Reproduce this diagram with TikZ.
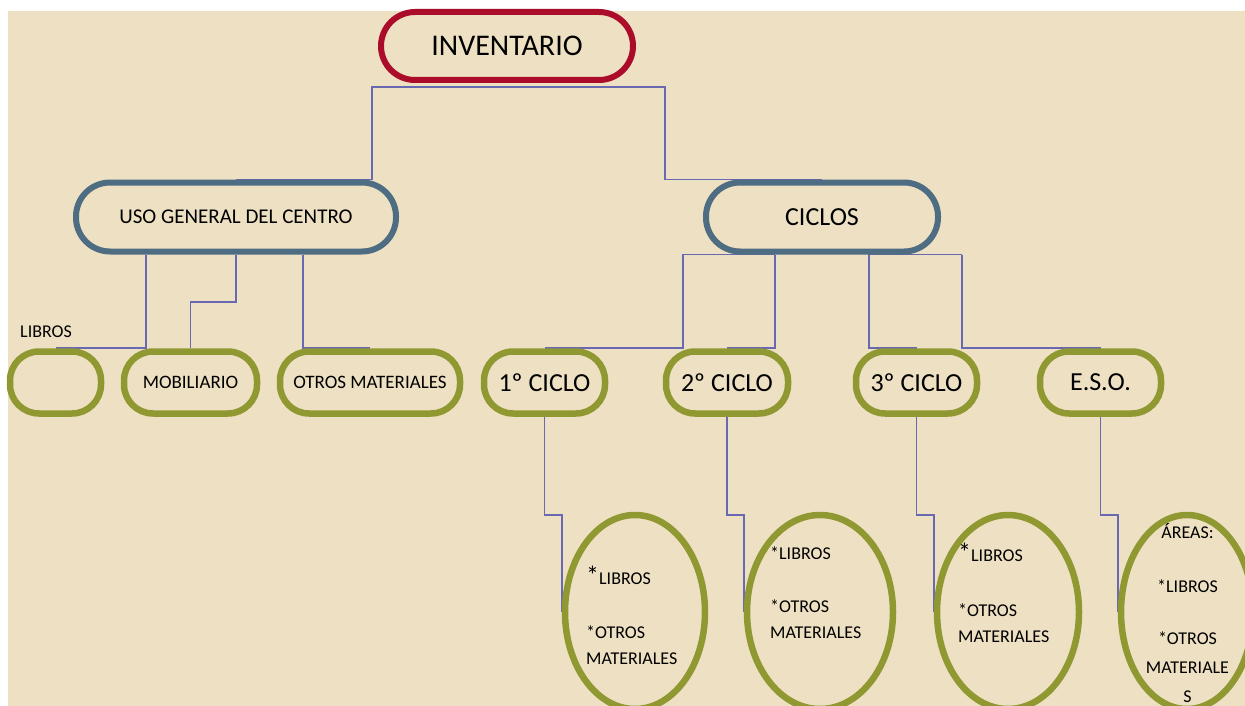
\documentclass[tikz,border=0pt]{standalone}
\usepackage{fontspec}
\setmainfont{Carlito}
\usetikzlibrary{shapes.geometric,backgrounds}
\definecolor{rojo}{RGB}{170,12,42}
\definecolor{azul}{RGB}{78,108,130}
\definecolor{verde}{RGB}{144,152,50}
\definecolor{linea}{RGB}{105,105,178}
\definecolor{papel}{RGB}{238,225,195}
\begin{document}
\begin{tikzpicture}[x=1pt,y=-1pt,
    nivelcero/.style={draw=rojo, line width=6pt, rounded corners=34pt,
      minimum width=252pt, minimum height=68pt, inner sep=0pt,
      font=\fontsize{30}{36}\selectfont},
    niveluno/.style={draw=azul, line width=6pt, rounded corners=34pt,
      minimum height=69pt, inner sep=0pt},
    niveldos/.style={draw=verde, line width=6.5pt, rounded corners=29pt,
      minimum height=62pt, inner sep=0pt},
    hoja/.style={ellipse, draw=verde, line width=6.5pt,
      minimum height=194pt, inner sep=0pt},
    conector/.style={draw=linea, line width=1.6pt},
    lista/.style={align=left, inner sep=0pt, anchor=base west,
      font=\fontsize{18}{26}\selectfont},
    chica/.style={font=\fontsize{19}{23}\selectfont},
    grande/.style={font=\fontsize{26}{30}\selectfont}]
  \useasboundingbox (0,0) rectangle (1245,706);
  \clip (0,0) rectangle (1245,706);

  % cajas
  \node[nivelcero] (inv) at (507,46) {INVENTARIO};
  \node[niveluno, minimum width=320pt, font=\fontsize{21}{25}\selectfont] (uso) at (236,217) {USO GENERAL DEL CENTRO};
  \node[niveluno, minimum width=232pt, grande] (ciclos) at (822,217) {CICLOS};

  \node[niveldos, minimum width=91pt] (vacio) at (55.5,382.5) {};
  \node[niveldos, minimum width=133pt, chica] (mob) at (190.5,382.5) {MOBILIARIO};
  \node[niveldos, minimum width=180pt, chica] (otros) at (370,382.5) {OTROS MATERIALES};
  \node[niveldos, minimum width=121pt, grande] (c1) at (544.5,382.5) {1º CICLO};
  \node[niveldos, minimum width=122pt, grande] (c2) at (727,382.5) {2º CICLO};
  \node[niveldos, minimum width=121pt, grande] (c3) at (916.5,382.5) {3º CICLO};
  \node[niveldos, minimum width=121pt, grande] (eso) at (1100.5,382.5) {E.S.O.};
  \node[anchor=base west, inner sep=0pt, font=\fontsize{18}{22}\selectfont] (etiq) at (20,337) {LIBROS};

  \node[hoja, minimum width=140pt] (e1) at (635,612) {};
  \node[hoja, minimum width=146pt] (e2) at (820,612) {};
  \node[hoja, minimum width=142pt] (e3) at (1008,612) {};
  \node[hoja, minimum width=132pt] (e4) at (1187,612) {};

  % textos de las hojas
  \node[lista] (t1) at (586,664) {{\fontsize{26}{26}\selectfont*}LIBROS\\[28pt]*OTROS\\MATERIALES};
  \node[lista] (t2) at (770,638) {*LIBROS\\[27pt]*OTROS\\MATERIALES};
  \node[lista] (t3) at (958,642) {{\fontsize{26}{26}\selectfont*}LIBROS\\[29pt]*OTROS\\MATERIALES};
  \node[lista, align=center, anchor=base, font=\fontsize{18}{29}\selectfont] (t4) at (1187.5,702) {ÁREAS:\\[25pt]*LIBROS\\[23pt]*OTROS\\MATERIALE\\S};

  \begin{pgfonlayer}{background}
    \fill[white] (0,0) rectangle (1245,706);
    \fill[papel] (8,11) rectangle (1245,706);
    % conectores
    \draw[conector] ([yshift=-4pt]inv.south) -| ([xshift=136pt]uso.north) -- (uso.north);
    \draw[conector] ([yshift=-4pt]inv.south) -| ([xshift=-157pt]ciclos.north) -- (ciclos.north);

    \draw[conector] ([xshift=-90pt]uso.south) |- (vacio.north);
    \draw[conector] (uso.south) -- ++(0,47.5) -| (mob.north);
    \draw[conector] ([xshift=67pt]uso.south) |- (otros.north);

    \draw[conector] (c1.north) -| ([xshift=-139pt]ciclos.south) -- ([xshift=-47pt]ciclos.south);
    \draw[conector] (c2.north) -| ([xshift=-47pt]ciclos.south);
    \draw[conector] (c3.north) -| ([xshift=47pt]ciclos.south) -- ([xshift=140pt]ciclos.south);
    \draw[conector] (eso.north) -| ([xshift=140pt]ciclos.south);

    \draw[conector] (c1.south) -- ++(0,98) -| (e1.west);
    \draw[conector] (c2.south) -- ++(0,98) -| (e2.west);
    \draw[conector] (c3.south) -- ++(0,98) -| (e3.west);
    \draw[conector] (eso.south) -- ++(0,98) -| (e4.west);
  \end{pgfonlayer}
\end{tikzpicture}
\end{document}
